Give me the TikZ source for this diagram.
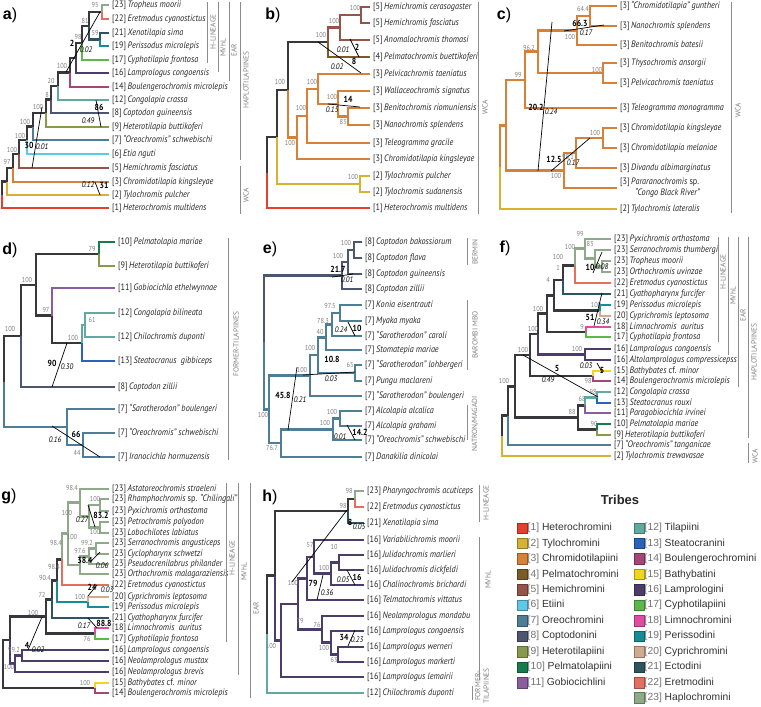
\documentclass[tikz,border=0pt]{standalone}
\usepackage{fontspec}
\setmainfont{PT Sans}
\newfontfamily\leaffont[FakeStretch=0.88]{PT Sans}
\newfontfamily\legfont{Liberation Sans}
\usetikzlibrary{positioning}

\definecolor{tr1}{RGB}{228,64,44}
\definecolor{tr2}{RGB}{214,178,48}
\definecolor{tr3}{RGB}{214,128,56}
\definecolor{tr4}{RGB}{122,92,38}
\definecolor{tr5}{RGB}{150,84,72}
\definecolor{tr6}{RGB}{92,200,234}
\definecolor{tr7}{RGB}{78,126,150}
\definecolor{tr8}{RGB}{76,86,112}
\definecolor{tr9}{RGB}{136,154,76}
\definecolor{tr10}{RGB}{22,124,78}
\definecolor{tr11}{RGB}{140,92,160}
\definecolor{tr12}{RGB}{96,170,160}
\definecolor{tr13}{RGB}{40,100,186}
\definecolor{tr14}{RGB}{166,70,120}
\definecolor{tr15}{RGB}{240,214,30}
\definecolor{tr16}{RGB}{76,60,106}
\definecolor{tr17}{RGB}{92,184,72}
\definecolor{tr18}{RGB}{226,76,160}
\definecolor{tr19}{RGB}{22,140,150}
\definecolor{tr20}{RGB}{210,170,142}
\definecolor{tr21}{RGB}{46,84,96}
\definecolor{tr22}{RGB}{226,112,96}
\definecolor{tr23}{RGB}{142,170,136}
\definecolor{stem}{RGB}{55,55,60}

\newcounter{sl}
% leaf, branch to inner node, branch to leaf
\newcommand\leaf[4]{\node[leaf] (#1) at (#2) {[#3]\,\textit{#4}};}
\newcommand\br[3]{\draw[branch,#1] (#2) |- (#3);}
\newcommand\bl[3]{\draw[branch,#1] (#2) |- (#3.west);}
% support value
\newcommand\bsv[2]{\stepcounter{sl}\node[supp] (sv\arabic{sl}) at (#1) {#2};}
% slanted mark with bold and italic value
\newcommand\ann[6]{\stepcounter{sl}%
  \coordinate (an\arabic{sl}a) at (#1); \coordinate (an\arabic{sl}b) at (#2);
  \draw[annl] (an\arabic{sl}a) -- (an\arabic{sl}b);
  \node[bnum] (bn\arabic{sl}) at (#3) {#4};
  \node[inum] (in\arabic{sl}) at (#5) {#6};}
% group bar with rotated name
\newcommand\grp[5]{\stepcounter{sl}%
  \coordinate (ga\arabic{sl}) at (#1,#2); \coordinate (gb\arabic{sl}) at (#1,#3);
  \draw[grpl] (ga\arabic{sl}) -- (gb\arabic{sl});
  \node[grpt] (gt\arabic{sl}) at (#4) {#5};}

\begin{document}
\begin{tikzpicture}[x=1pt, y=-1pt, node distance=15.45pt]
    % Define the styles
    \tikzstyle{branch} = [line width=2.7pt]
    \tikzstyle{leaf} = [anchor=west, inner xsep=3pt, inner ysep=0pt, text=black!85, font=\leaffont\fontsize{9.3}{11}\selectfont]
    \tikzstyle{supp} = [inner sep=0pt, text=black!50, font=\leaffont\fontsize{7.2}{8}\selectfont]
    \tikzstyle{bnum} = [inner sep=0pt, font=\leaffont\fontsize{8.8}{9}\selectfont\bfseries]
    \tikzstyle{inum} = [inner sep=0pt, font=\leaffont\fontsize{8}{9}\selectfont\itshape]
    \tikzstyle{annl} = [draw=black, line width=0.7pt]
    \tikzstyle{grpl} = [draw=black!45, line width=0.8pt]
    \tikzstyle{grpt} = [rotate=90, inner sep=0pt, align=center, text=black!50, font=\fontsize{7.4}{8.4}\selectfont]
    \tikzstyle{panel} = [inner sep=0pt, font=\legfont\fontsize{16}{16}\selectfont\bfseries]
    \tikzstyle{tribe} = [fill=#1, draw=#1!70!black, line width=0.5pt, minimum size=10.5pt, inner sep=0pt, label distance=4pt]
    \tikzstyle{legt} = [inner sep=0pt, text=black!80, font=\legfont\fontsize{10.3}{12}\selectfont]

    \fill[white] (0,0) rectangle (761,707);
    \useasboundingbox (0,0) rectangle (761,707);

    % ---------------- a)
    \node[panel] (pa) at (10,15) {a\textmd{)}};
    \coordinate (aA) at (102,12);   \coordinate (aB) at (100,39.5);
    \coordinate (aC) at (89,26);    \coordinate (aD) at (82,43);
    \coordinate (aE) at (76,58);    \coordinate (aF) at (70,72.5);
    \coordinate (aG) at (58,86);    \coordinate (aH) at (51,99.5);
    \coordinate (aI) at (46,113);   \coordinate (aJ) at (33,126.5);
    \coordinate (aK) at (27,140);   \coordinate (aL) at (19,154);
    \coordinate (aM) at (13,168);   \coordinate (aN) at (7,181.5);
    \coordinate (aR) at (2,195);
    \leaf{a1}{109,5}{23}{Tropheus moorii}
    \leaf{a2}{109,19}{22}{Eretmodus cyanostictus}
    \leaf{a3}{109,33}{21}{Xenotilapia sima}
    \leaf{a4}{109,46}{19}{Perissodus microlepis}
    \leaf{a5}{109,60}{17}{Cyphotilapia frontosa}
    \leaf{a6}{109,73}{16}{Lamprologus congoensis}
    \leaf{a7}{109,87}{14}{Boulengerochromis microlepis}
    \leaf{a8}{109,100}{12}{Congolapia crassa}
    \leaf{a9}{109,113}{8}{Coptodon guineensis}
    \leaf{a10}{109,127}{9}{Heterotilapia buttikoferi}
    \leaf{a11}{109,140}{7}{“Oreochromis” schwebischi}
    \leaf{a12}{109,154}{6}{Etia nguti}
    \leaf{a13}{109,168}{5}{Hemichromis fasciatus}
    \leaf{a14}{109,182}{3}{Chromidotilapia kingsleyae}
    \leaf{a15}{109,195}{2}{Tylochromis pulcher}
    \leaf{a16}{109,208}{1}{Heterochromis multidens}
    \br{stem}{aR}{aN}  \bl{tr1}{aR}{a16}
    \br{stem}{aN}{aM}  \bl{tr2}{aN}{a15}
    \br{stem}{aM}{aL}  \bl{tr3}{aM}{a14}
    \br{stem}{aL}{aK}  \bl{tr5}{aL}{a13}
    \br{stem}{aK}{aJ}  \bl{tr6}{aK}{a12}
    \br{stem}{aJ}{aI}  \bl{tr7}{aJ}{a11}
    \br{stem}{aI}{aH}  \bl{tr9}{aI}{a10}
    \br{stem}{aH}{aG}  \bl{tr8}{aH}{a9}
    \br{stem}{aG}{aF}  \bl{tr12}{aG}{a8}
    \br{stem}{aF}{aE}  \bl{tr14}{aF}{a7}
    \br{stem}{aE}{aD}  \bl{tr16}{aE}{a6}
    \br{stem}{aD}{aC}  \bl{tr17}{aD}{a5}
    \br{stem}{aC}{aA}  \br{tr21}{aC}{aB}
    \bl{tr23}{aA}{a1}  \bl{tr22}{aA}{a2}
    \bl{tr21}{aB}{a3}  \bl{tr19}{aB}{a4}
    \bsv{95,5}{95} \bsv{95,33}{59} \bsv{85,21}{81} \bsv{78,37}{98}
    \bsv{62,66}{100} \bsv{51,81}{20} \bsv{47,95}{8} \bsv{38,107}{100}
    \bsv{25,122}{100} \bsv{20,136}{100} \bsv{12,150}{100} \bsv{7,162}{97}
    \ann{66,72}{100,12}{72,43}{2}{86,50}{0.02}
    \ann{96,100}{101,127}{99,107}{86}{88,121}{0.49}
    \ann{42,107}{32,168}{29,145}{30}{42,147}{0.01}
    \ann{95,182}{100,195}{104,185}{31}{88,185}{0.12}
    \grp{207}{2}{63}{213,32}{H-LINEAGE}
    \grp{218}{2}{72}{223,48}{MVhL}
    \grp{229}{2}{81}{234,50}{EAR}
    \grp{240}{2}{160}{246,80}{HAPLOTILAPIINES}
    \grp{240}{166}{214}{246,195}{WCA}

    % ---------------- b)
    \node[panel] (pb) at (273,15) {b\textmd{)}};
    \coordinate (bH1) at (361,15);   \coordinate (bH2) at (340,27.5);
    \coordinate (bH3) at (328,42);   \coordinate (bP1) at (348,116.5);
    \coordinate (bP2) at (338,104);  \coordinate (bP3) at (318,89);
    \coordinate (bP4) at (307,116);  \coordinate (bP5) at (297,137.5);
    \coordinate (bR2) at (288,90);   \coordinate (bT) at (360,184);
    \coordinate (bR1) at (277,137);  \coordinate (bR) at (267,172.5);
    \leaf{b1}{370,7}{5}{Hemichromis cerasogaster}
    \leaf{b2}{370,23}{5}{Hemichromis fasciatus}
    \leaf{b3}{370,40}{5}{Anomalochromis thomasi}
    \leaf{b4}{370,57}{4}{Pelmatochromis buettikoferi}
    \leaf{b5}{370,74}{3}{Pelvicachromis taeniatus}
    \leaf{b6}{370,91}{3}{Wallaceochromis signatus}
    \leaf{b7}{370,108}{3}{Benitochromis riomuniensis}
    \leaf{b8}{370,125}{3}{Nanochromis splendens}
    \leaf{b9}{370,143}{3}{Teleogramma gracile}
    \leaf{b10}{370,159}{3}{Chromidotilapia kingsleyae}
    \leaf{b11}{370,176}{2}{Tylochromis pulcher}
    \leaf{b12}{370,192}{2}{Tylochromis sudanensis}
    \leaf{b13}{370,208}{1}{Heterochromis multidens}
    \br{stem}{bR}{bR1}  \bl{tr1}{bR}{b13}
    \br{stem}{bR1}{bR2} \br{tr2}{bR1}{bT}
    \bl{tr2}{bT}{b11}   \bl{tr2}{bT}{b12}
    \br{stem}{bR2}{bH3} \br{tr3}{bR2}{bP5}
    \br{tr5}{bH3}{bH2}  \bl{tr4}{bH3}{b4}
    \br{tr5}{bH2}{bH1}  \bl{tr5}{bH2}{b3}
    \bl{tr5}{bH1}{b1}   \bl{tr5}{bH1}{b2}
    \br{tr3}{bP5}{bP4}  \bl{tr3}{bP5}{b10}
    \br{tr3}{bP4}{bP3}  \bl{tr3}{bP4}{b9}
    \bl{tr3}{bP3}{b5}   \br{tr3}{bP3}{bP2}
    \bl{tr3}{bP2}{b6}   \br{tr3}{bP2}{bP1}
    \bl{tr3}{bP1}{b7}   \bl{tr3}{bP1}{b8}
    \bsv{355,8}{100} \bsv{334,21}{100} \bsv{321,35}{100} \bsv{280,82}{100}
    \bsv{312,82}{100} \bsv{332,97}{100} \bsv{301,108}{100} \bsv{343,122}{83}
    \bsv{290,143}{100} \bsv{353,177}{100}
    \ann{350,39}{359,57}{357,47}{2}{343,50}{0.01}
    \ann{318,42}{361,73}{354,61}{8}{337,67}{0.02}
    \ann{328,104}{360,107}{348,99}{14}{332,110}{0.15}
    \grp{478}{2}{214}{485,107}{WCA}

    % ---------------- c)
    \node[panel] (pc) at (504,15) {c\textmd{)}};
    \coordinate (cC1) at (590,16);    \coordinate (cC2) at (577,30.5);
    \coordinate (cC3) at (603,73);    \coordinate (cC4) at (538,51.75);
    \coordinate (cC5) at (525,79.9);  \coordinate (cC6) at (603,138);
    \coordinate (cC7) at (576,153);   \coordinate (cC8) at (564,170.5);
    \coordinate (cC9) at (506,125.2); \coordinate (cR) at (500,167);
    \leaf{c1}{617,6}{3}{“Chromidotilapia” guntheri}
    \leaf{c2}{617,26}{3}{Nanochromis splendens}
    \leaf{c3}{617,45}{3}{Benitochromis batesii}
    \leaf{c4}{617,63}{3}{Thysochromis ansorgii}
    \leaf{c5}{617,83}{3}{Pelvicachromis taeniatus}
    \leaf{c6}{617,108}{3}{Teleogramma monogramma}
    \leaf{c7}{617,128}{3}{Chromidotilapia kingsleyae}
    \leaf{c8}{617,148}{3}{Chromidotilapia melaniae}
    \leaf{c9}{617,168}{3}{Divandu albimarginatus}
    \node[leaf, align=left] (c10) at (617,188) {[3]\,\textit{Pararanochromis} sp.\\\hspace*{15pt}\textit{“Congo Black River”}};
    \leaf{c11}{617,209}{2}{Tylochromis lateralis}
    \br{tr3}{cR}{cC9}   \bl{tr2}{cR}{c11}
    \br{tr3}{cC9}{cC5}  \br{tr3}{cC9}{cC8}
    \br{tr3}{cC5}{cC4}  \bl{tr3}{cC5}{c6}
    \br{tr3}{cC4}{cC2}  \br{tr3}{cC4}{cC3}
    \br{tr3}{cC2}{cC1}  \bl{tr3}{cC2}{c3}
    \bl{tr3}{cC1}{c1}   \bl{tr3}{cC1}{c2}
    \bl{tr3}{cC3}{c4}   \bl{tr3}{cC3}{c5}
    \br{tr3}{cC8}{cC7}  \bl{tr3}{cC8}{c10}
    \br{tr3}{cC7}{cC6}  \bl{tr3}{cC7}{c9}
    \bl{tr3}{cC6}{c7}   \bl{tr3}{cC6}{c8}
    \bsv{583,9}{64.4} \bsv{570,37}{100} \bsv{529,48}{96.2} \bsv{597,70}{100}
    \bsv{518,75}{99} \bsv{595,133}{100} \bsv{568,157}{98.1} \bsv{556,176}{100}
    \ann{564,31}{604,25}{580,23}{66.3}{586,33}{0.17}
    \ann{552,22}{538,171}{536,107}{20.2}{551,112}{0.24}
    \ann{551,171}{590,138}{554,159}{12.5}{573,163}{0.17}
    \grp{731}{2}{213}{738,110}{WCA}

    % ---------------- d)
    \node[panel] (pd) at (10,250) {d\textmd{)}};
    \coordinate (dD1) at (99,254);   \coordinate (dD2) at (85,325);
    \coordinate (dD3) at (82,343);   \coordinate (dD4) at (52,315.5);
    \coordinate (dD5) at (36,285);   \coordinate (dD6) at (21,336);
    \coordinate (dD7) at (83,445);   \coordinate (dD8) at (67,427);
    \coordinate (dR) at (4,381.5);
    \leaf{d1}{115,242}{10}{Pelmatolapia mariae}
    \leaf{d2}{115,266}{9}{Heterotilapia buttikoferi}
    \leaf{d3}{115,288}{11}{Gobiocichla ethelwynnae}
    \leaf{d4}{115,313}{12}{Congolapia bilineata}
    \leaf{d5}{115,337}{12}{Chilochromis duponti}
    \leaf{d6}{115,361}{13}{Steatocranus\ \ gibbiceps}
    \leaf{d7}{115,387}{8}{Coptodon zillii}
    \leaf{d8}{115,409}{7}{“Sarotherodon” boulengeri}
    \leaf{d9}{115,433}{7}{“Oreochromis” schwebischi}
    \leaf{d10}{115,457}{7}{Iranocichla hormuzensis}
    \br{stem}{dR}{dD6}  \br{tr7}{dR}{dD8}
    \br{stem}{dD6}{dD5} \bl{tr8}{dD6}{d7}
    \br{stem}{dD5}{dD1} \br{stem}{dD5}{dD4}
    \bl{tr10}{dD1}{d1}  \bl{tr9}{dD1}{d2}
    \bl{tr11}{dD4}{d3}  \br{stem}{dD4}{dD3}
    \br{tr12}{dD3}{dD2} \bl{tr13}{dD3}{d6}
    \bl{tr12}{dD2}{d4}  \bl{tr12}{dD2}{d5}
    \bl{tr7}{dD8}{d8}   \br{tr7}{dD8}{dD7}
    \bl{tr7}{dD7}{d9}   \bl{tr7}{dD7}{d10}
    \bsv{92,249}{79} \bsv{27,280}{100} \bsv{46,310}{97} \bsv{92,320}{61}
    \bsv{73,338}{100} \bsv{10,329}{100} \bsv{77,453}{44}
    \ann{67,343}{52,387}{52,363}{90}{67,367}{0.30}
    \ann{52,426}{100,457}{76,434}{66}{55,440}{0.16}
    \grp{228}{238}{460}{236,344}{FORMER-TILAPIINES}

    % ---------------- e)
    \node[panel] (pe) at (270,249) {e\textmd{)}};
    \coordinate (eE1) at (354,250);    \coordinate (eE2) at (348,262);
    \coordinate (eE3) at (342,275.5);  \coordinate (eE4) at (340,313);
    \coordinate (eE5) at (332,324.5);  \coordinate (eE6) at (326,337.25);
    \coordinate (eE7) at (355,373);    \coordinate (eE8) at (318,355);
    \coordinate (eE9) at (310,375.5);  \coordinate (eE10) at (340,418.5);
    \coordinate (eE11) at (333,429.25);\coordinate (eE12) at (281,443);
    \coordinate (eE13) at (269,409.25);\coordinate (eR) at (264,342.4);
    \leaf{e1}{362,242}{8}{Coptodon bakossiorum}
    \leaf{e2}{362,258}{8}{Coptodon flava}
    \leaf{e3}{362,274}{8}{Coptodon guineensis}
    \leaf{e4}{362,289}{8}{Coptodon zillii}
    \leaf{e5}{362,305}{7}{Konia eisentrauti}
    \leaf{e6}{362,321}{7}{Myaka myaka}
    \leaf{e7}{362,336}{7}{“Sarotherodon” caroli}
    \leaf{e8}{362,350}{7}{Stomatepia mariae}
    \leaf{e9}{362,365}{7}{“Sarotherodon” lohbergeri}
    \leaf{e10}{362,381}{7}{Pungu maclareni}
    \leaf{e11}{362,396}{7}{“Sarotherodon” boulengeri}
    \leaf{e12}{362,411}{7}{Alcolapia alcalica}
    \leaf{e13}{362,426}{7}{Alcolapia grahami}
    \leaf{e14}{362,440}{7}{“Oreochromis” schwebischi}
    \leaf{e15}{362,457}{7}{Danakilia dinicolai}
    \br{tr8}{eR}{eE3}   \br{tr7}{eR}{eE13}
    \br{tr8}{eE3}{eE2}  \bl{tr8}{eE3}{e4}
    \br{tr8}{eE2}{eE1}  \bl{tr8}{eE2}{e3}
    \bl{tr8}{eE1}{e1}   \bl{tr8}{eE1}{e2}
    \br{tr7}{eE13}{eE9} \br{tr7}{eE13}{eE12}
    \br{tr7}{eE9}{eE8}  \bl{tr7}{eE9}{e11}
    \br{tr7}{eE8}{eE6}  \br{tr7}{eE8}{eE7}
    \br{tr7}{eE6}{eE5}  \bl{tr7}{eE6}{e8}
    \br{tr7}{eE5}{eE4}  \bl{tr7}{eE5}{e7}
    \bl{tr7}{eE4}{e5}   \bl{tr7}{eE4}{e6}
    \bl{tr7}{eE7}{e9}   \bl{tr7}{eE7}{e10}
    \br{tr7}{eE12}{eE11}\bl{tr7}{eE12}{e15}
    \br{tr7}{eE11}{eE10}\bl{tr7}{eE11}{e14}
    \bl{tr7}{eE10}{e12} \bl{tr7}{eE10}{e13}
    \bsv{346,243}{100} \bsv{338,256}{100} \bsv{330,306}{97.5} \bsv{323,321}{78.3}
    \bsv{320,332}{40} \bsv{310,348}{100} \bsv{302,370}{100} \bsv{350,365}{65}
    \bsv{332,412}{100} \bsv{325,423}{100} \bsv{272,448}{76.7} \bsv{263,415}{100}
    \ann{332,277}{353,274}{338,269}{21.7}{347,280}{0.01}
    \ann{348,322}{355,336}{357,328}{10}{341,330}{0.24}
    \ann{303,375}{355,372}{332,359}{10.8}{331,379}{0.03}
    \ann{297,367}{288,430}{283,395}{45.8}{300,400}{0.21}
    \ann{347,425}{355,440}{360,432}{14.2}{340,437}{0.01}
    \grp{467}{238}{265}{475,252}{BERMIN}
    \grp{467}{300}{370}{475,335}{BAROMBI MBO}
    \grp{467}{405}{440}{475,424}{NATRON/MAGADI}

    % ---------------- f)
    \node[panel] (pf) at (505,248) {f\textmd{)}};
    \coordinate (fhA) at (602,266.5);  \coordinate (fhB) at (595,258.25);
    \coordinate (fhC) at (585,248.6);  \coordinate (fhD) at (575,265.8);
    \coordinate (fhE) at (563,279.9);  \coordinate (fpc) at (600,310.5);
    \coordinate (fN1) at (554,295.2);  \coordinate (flc) at (586,332);
    \coordinate (fN2) at (547,313.6);  \coordinate (flp) at (585,354.5);
    \coordinate (fN3) at (538,334);    \coordinate (fbb) at (593,376);
    \coordinate (fN4) at (530,355);    \coordinate (fct) at (597,397.5);
    \coordinate (fcg) at (585,405.25); \coordinate (fpm) at (597,429.5);
    \coordinate (fgp) at (578,417.4);  \coordinate (fN5) at (515,386.2);
    \coordinate (fN6) at (508,415.6);  \coordinate (fR) at (502,435.8);
    \leaf{f1}{611,239}{23}{Pyxichromis orthostoma}
    \leaf{f2}{611,250}{23}{Serranochromis thumbergi}
    \leaf{f3}{611,261}{23}{Tropheus moorii}
    \leaf{f4}{611,272}{23}{Orthochromis uvinzae}
    \leaf{f5}{611,283}{22}{Eretmodus cyanostictus}
    \leaf{f6}{611,294}{21}{Cyathopharynx furcifer}
    \leaf{f7}{611,305}{19}{Perissodus microlepis}
    \leaf{f8}{611,316}{20}{Cyprichromis leptosoma}
    \leaf{f9}{611,327}{18}{Limnochromis\ \ auritus}
    \leaf{f10}{611,337}{17}{Cyphotilapia frontosa}
    \leaf{f11}{611,349}{16}{Lamprologus congoensis}
    \leaf{f12}{611,360}{16}{Altolamprologus compressicepss}
    \leaf{f13}{611,371}{15}{Bathybates \textup{cf.} minor}
    \leaf{f14}{611,381}{14}{Boulengerochromis microlepis}
    \leaf{f15}{611,392}{12}{Congolapia crassa}
    \leaf{f16}{611,403}{13}{Steatocranus rouxi}
    \leaf{f17}{611,413}{11}{Paragobiocichla irvinei}
    \leaf{f18}{611,424}{10}{Pelmatolapia mariae}
    \leaf{f19}{611,435}{9}{Heterotilapia buttikoferi}
    \leaf{f20}{611,445}{7}{“Oreochromis” tanganicae}
    \leaf{f21}{611,456}{2}{Tylochromis trewavasae}
    \br{stem}{fR}{fN6}  \bl{tr2}{fR}{f21}
    \br{stem}{fN6}{fN5} \bl{tr7}{fN6}{f20}
    \br{stem}{fN5}{fN4} \br{stem}{fN5}{fgp}
    \br{stem}{fgp}{fcg} \br{stem}{fgp}{fpm}
    \bl{tr10}{fpm}{f18} \bl{tr9}{fpm}{f19}
    \br{tr12}{fcg}{fct} \bl{tr11}{fcg}{f17}
    \bl{tr12}{fct}{f15} \bl{tr13}{fct}{f16}
    \br{stem}{fN4}{fN3} \br{stem}{fN4}{fbb}
    \bl{tr15}{fbb}{f13} \bl{tr14}{fbb}{f14}
    \br{stem}{fN3}{fN2} \br{tr16}{fN3}{flp}
    \bl{tr16}{flp}{f11} \bl{tr16}{flp}{f12}
    \br{stem}{fN2}{fN1} \br{stem}{fN2}{flc}
    \bl{tr18}{flc}{f9}  \bl{tr17}{flc}{f10}
    \br{stem}{fN1}{fhE} \br{stem}{fN1}{fpc}
    \bl{tr19}{fpc}{f7}  \bl{tr20}{fpc}{f8}
    \br{stem}{fhE}{fhD} \bl{tr21}{fhE}{f6}
    \br{tr23}{fhD}{fhC} \bl{tr22}{fhD}{f5}
    \bl{tr23}{fhC}{f1}  \br{tr23}{fhC}{fhB}
    \bl{tr23}{fhB}{f2}  \br{tr23}{fhB}{fhA}
    \bl{tr23}{fhA}{f3}  \bl{tr23}{fhA}{f4}
    \bsv{580,234}{99} \bsv{590,244}{83} \bsv{570,247}{100} \bsv{558,257}{100}
    \bsv{558,268}{1} \bsv{548,280}{4} \bsv{596,305}{100} \bsv{538,309}{100}
    \bsv{582,327}{9} \bsv{533,329}{100} \bsv{523,350}{100} \bsv{577,349}{100}
    \bsv{588,381}{98} \bsv{504,381}{100} \bsv{593,392}{98} \bsv{582,399}{68}
    \bsv{572,412}{88} \bsv{594,424}{90}
    \ann{593,273}{602,252}{590,267}{10}{602,267}{0.08}
    \ann{594,326}{602,293}{590,317}{51}{603,322}{0.34}
    \ann{523,355}{598,397}{557,368}{5}{548,380}{0.49}
    \ann{597,363}{602,372}{602,370}{5}{586,366}{0.03}
    \grp{718}{237}{342}{723,272}{H-LINEAGE}
    \grp{728}{237}{355}{733,296}{MVhL}
    \grp{738}{237}{387}{743,315}{EAR}
    \grp{748}{237}{438}{754,352}{HAPLOTILAPIINES}
    \grp{748}{443}{463}{755,456}{WCA}

    % ---------------- g)
    \node[panel] (pg) at (9,496) {g\textmd{)}};
    \coordinate (gG1) at (100,505);    \coordinate (gG2) at (100,527.5);
    \coordinate (gG3) at (89,516.25);  \coordinate (gG4) at (80,502.6);
    \coordinate (gG6) at (96,548.5);   \coordinate (gG7) at (89,556.25);
    \coordinate (gG8) at (80,565);     \coordinate (gG9) at (68,533.8);
    \coordinate (gG10) at (62,559.4);  \coordinate (gcp) at (88,602);
    \coordinate (gG11) at (57,580.7);  \coordinate (gG12) at (52,599.4);
    \coordinate (glc) at (95,633.5);   \coordinate (gG13) at (46,616.4);
    \coordinate (gL1) at (22,655.5);   \coordinate (gL2) at (15,663.75);
    \coordinate (gG14) at (10,640);    \coordinate (gbb) at (95,688);
    \coordinate (gR) at (3,664);
    \leaf{g1}{109,489}{23}{Astatoreochromis straeleni}
    \leaf{g2}{109,499}{23}{Rhamphochromis \textup{sp.} “Chilingali”}
    \leaf{g3}{109,511}{23}{Pyxichromis orthostoma}
    \leaf{g4}{109,522}{23}{Petrochromis polyodon}
    \leaf{g5}{109,533}{23}{Lobochilotes labiatus}
    \leaf{g6}{109,543}{23}{Serranochromis angusticeps}
    \leaf{g7}{109,554}{23}{Cyclopharynx schwetzi}
    \leaf{g8}{109,564}{23}{Pseudocrenilabrus philander}
    \leaf{g9}{109,574}{23}{Orthochromis malagaraziensis}
    \leaf{g10}{109,585}{22}{Eretmodus cyanostictus}
    \leaf{g11}{109,597}{20}{Cyprichromis leptosoma}
    \leaf{g12}{109,607}{19}{Perissodus microlepis}
    \leaf{g13}{109,618}{21}{Cyathopharynx furcifer}
    \leaf{g14}{109,628}{18}{Limnochromis\ \ auritus}
    \leaf{g15}{109,639}{17}{Cyphotilapia frontosa}
    \leaf{g16}{109,650}{16}{Lamprologus congoensis}
    \leaf{g17}{109,661}{16}{Neolamprologus mustax}
    \leaf{g18}{109,672}{16}{Neolamprologus brevis}
    \leaf{g19}{109,683}{15}{Bathybates \textup{cf.} minor}
    \leaf{g20}{109,693}{14}{Boulengerochromis microlepis}
    \br{stem}{gR}{gG14}  \br{stem}{gR}{gbb}
    \bl{tr15}{gbb}{g19}  \bl{tr14}{gbb}{g20}
    \br{stem}{gG14}{gG13} \br{tr16}{gG14}{gL2}
    \br{tr16}{gL2}{gL1}  \bl{tr16}{gL2}{g18}
    \bl{tr16}{gL1}{g16}  \bl{tr16}{gL1}{g17}
    \br{stem}{gG13}{gG12} \br{stem}{gG13}{glc}
    \bl{tr18}{glc}{g14}  \bl{tr17}{glc}{g15}
    \br{stem}{gG12}{gG11} \bl{tr21}{gG12}{g13}
    \br{stem}{gG11}{gG10} \br{tr19}{gG11}{gcp}
    \bl{tr20}{gcp}{g11}  \bl{tr19}{gcp}{g12}
    \br{tr23}{gG10}{gG9} \bl{tr22}{gG10}{g10}
    \br{tr23}{gG9}{gG4}  \br{tr23}{gG9}{gG8}
    \bl{tr23}{gG4}{g1}   \br{tr23}{gG4}{gG3}
    \br{tr23}{gG3}{gG1}  \br{tr23}{gG3}{gG2}
    \bl{tr23}{gG1}{g2}   \bl{tr23}{gG1}{g3}
    \bl{tr23}{gG2}{g4}   \bl{tr23}{gG2}{g5}
    \br{tr23}{gG8}{gG7}  \bl{tr23}{gG8}{g9}
    \br{tr23}{gG7}{gG6}  \bl{tr23}{gG7}{g8}
    \bl{tr23}{gG6}{g6}   \bl{tr23}{gG6}{g7}
    \bsv{72,488}{98.4} \bsv{95,499}{100} \bsv{67,513}{100} \bsv{95,532}{100}
    \bsv{72,537}{100} \bsv{87,543}{99.2} \bsv{80,551}{97.6} \bsv{56,543}{98.4}
    \bsv{54,567}{98.4} \bsv{45,578}{90.4} \bsv{42,595}{72} \bsv{80,597}{100}
    \bsv{33,613}{100} \bsv{87,639}{76} \bsv{14,650}{99.2} \bsv{9,667}{100}
    \bsv{85,683}{100}
    \ann{88,505}{95,527}{101,515}{83.2}{82,520}{0.27}
    \ann{90,562}{100,552}{85,560}{38.4}{102,566}{0.06}
    \ann{88,596}{97,585}{92,587}{24}{107,590}{0.03}
    \ann{88,618}{97,628}{104,623}{88.8}{84,626}{0.17}
    \ann{28,650}{42,617}{27,645}{4}{38,650}{0.02}
    \grp{226}{483}{642}{232,558}{H-LINEAGE}
    \grp{238}{483}{675}{244,572}{MVhL}
    \grp{250}{483}{698}{256,608}{EAR}

    % ---------------- h)
    \node[panel] (ph) at (270,497) {h\textmd{)}};
    \coordinate (hph) at (355,499);   \coordinate (hpe) at (348,511);
    \coordinate (hv1) at (339,562.5); \coordinate (hv2) at (331,573.75);
    \coordinate (hv3) at (314,556.9); \coordinate (hv4) at (307,578.4);
    \coordinate (hlw) at (338,654.5); \coordinate (hlc) at (331,642.75);
    \coordinate (hmo) at (322,629.4); \coordinate (hv5) at (298,603.9);
    \coordinate (hv6) at (281,640.5); \coordinate (hv) at (275,575.7);
    \coordinate (hR) at (267,634.4);
    \leaf{h1}{364,491}{23}{Pharyngochromis acuticeps}
    \leaf{h2}{364,507}{22}{Eretmodus cyanostictus}
    \leaf{h3}{364,523}{21}{Xenotilapia sima}
    \leaf{h4}{364,540}{16}{Variabilichromis moorii}
    \leaf{h5}{364,555}{16}{Julidochromis marlieri}
    \leaf{h6}{364,570}{16}{Julidochromis dickfeldi}
    \leaf{h7}{364,585}{16}{Chalinochromis brichardi}
    \leaf{h8}{364,600}{16}{Telmatochromis vittatus}
    \leaf{h9}{364,616}{16}{Neolamprologus mondabu}
    \leaf{h10}{364,631}{16}{Lamprologus congoensis}
    \leaf{h11}{364,647}{16}{Lamprologus werneri}
    \leaf{h12}{364,662}{16}{Lamprologus markerti}
    \leaf{h13}{364,677}{16}{Lamprologus lemairii}
    \leaf{h14}{364,693}{12}{Chilochromis duponti}
    \br{stem}{hR}{hv}    \bl{tr12}{hR}{h14}
    \br{stem}{hv}{hpe}   \br{tr16}{hv}{hv6}
    \br{stem}{hpe}{hph}  \bl{tr21}{hpe}{h3}
    \bl{tr23}{hph}{h1}   \bl{tr22}{hph}{h2}
    \br{tr16}{hv6}{hv5}  \bl{tr16}{hv6}{h13}
    \br{tr16}{hv5}{hv4}  \br{tr16}{hv5}{hmo}
    \br{tr16}{hv4}{hv3}  \bl{tr16}{hv4}{h8}
    \bl{tr16}{hv3}{h4}   \br{tr16}{hv3}{hv2}
    \br{tr16}{hv2}{hv1}  \bl{tr16}{hv2}{h7}
    \bl{tr16}{hv1}{h5}   \bl{tr16}{hv1}{h6}
    \bl{tr16}{hmo}{h9}   \br{tr16}{hmo}{hlc}
    \bl{tr16}{hlc}{h10}  \br{tr16}{hlc}{hlw}
    \bl{tr16}{hlw}{h11}  \bl{tr16}{hlw}{h12}
    \bsv{349,491}{98} \bsv{343,506}{98} \bsv{310,545}{57} \bsv{334,547}{10}
    \bsv{324,568}{100} \bsv{293,583}{100} \bsv{300,621}{79} \bsv{317,625}{76}
    \bsv{271,646}{100} \bsv{324,648}{100} \bsv{334,660}{63}
    \ann{292,582}{347,510}{350,522}{8}{359,527}{0.05}
    \ann{347,570}{355,585}{357,577}{16}{343,580}{0.05}
    \ann{317,600}{323,575}{313,583}{79}{327,593}{0.36}
    \ann{348,646}{355,630}{344,637}{34}{357,640}{0.23}
    \grp{479}{485}{522}{486,503}{H-LINEAGE}
    \grp{479}{537}{680}{488,580}{MVhL}
    \grp{472}{686}{700}{482,686}{FORMER-\\TILAPIINES}

    % ---------------- Tribes
    \node[inner sep=0pt, text=black!85, font=\legfont\fontsize{13}{14}\selectfont\bfseries] (tribes) at (620,500) {Tribes};
    \node[tribe=tr1, label={[legt]right:{\color{black!55}[1]} Heterochromini}] (t1) at (522,528) {};
    \node[tribe=tr2, below of=t1, label={[legt]right:{\color{black!55}[2]} Tylochromini}] (t2) {};
    \node[tribe=tr3, below of=t2, label={[legt]right:{\color{black!55}[3]} Chromidotilapiini}] (t3) {};
    \node[tribe=tr4, below of=t3, label={[legt]right:{\color{black!55}[4]} Pelmatochromini}] (t4) {};
    \node[tribe=tr5, below of=t4, label={[legt]right:{\color{black!55}[5]} Hemichromini}] (t5) {};
    \node[tribe=tr6, below of=t5, label={[legt]right:{\color{black!55}[6]} Etiini}] (t6) {};
    \node[tribe=tr7, below of=t6, label={[legt]right:{\color{black!55}[7]} Oreochromini}] (t7) {};
    \node[tribe=tr8, below of=t7, label={[legt]right:{\color{black!55}[8]} Coptodonini}] (t8) {};
    \node[tribe=tr9, below of=t8, label={[legt]right:{\color{black!55}[9]} Heterotilapiini}] (t9) {};
    \node[tribe=tr10, below of=t9, label={[legt]right:{\color{black!55}[10]} Pelmatolapiini}] (t10) {};
    \node[tribe=tr11, below of=t10, label={[legt]right:{\color{black!55}[11]} Gobiocichlini}] (t11) {};
    \node[tribe=tr12, label={[legt]right:{\color{black!55}[12]} Tilapiini}] (t12) at (639,528) {};
    \node[tribe=tr13, below of=t12, label={[legt]right:{\color{black!55}[13]} Steatocranini}] (t13) {};
    \node[tribe=tr14, below of=t13, label={[legt]right:{\color{black!55}[14]} Boulengerochromini}] (t14) {};
    \node[tribe=tr15, below of=t14, label={[legt]right:{\color{black!55}[15]} Bathybatini}] (t15) {};
    \node[tribe=tr16, below of=t15, label={[legt]right:{\color{black!55}[16]} Lamprologini}] (t16) {};
    \node[tribe=tr17, below of=t16, label={[legt]right:{\color{black!55}[17]} Cyphotilapiini}] (t17) {};
    \node[tribe=tr18, below of=t17, label={[legt]right:{\color{black!55}[18]} Limnochromini}] (t18) {};
    \node[tribe=tr19, below of=t18, label={[legt]right:{\color{black!55}[19]} Perissodini}] (t19) {};
    \node[tribe=tr20, below of=t19, label={[legt]right:{\color{black!55}[20]} Cyprichromini}] (t20) {};
    \node[tribe=tr21, below of=t20, label={[legt]right:{\color{black!55}[21]} Ectodini}] (t21) {};
    \node[tribe=tr22, below of=t21, label={[legt]right:{\color{black!55}[22]} Eretmodini}] (t22) {};
    \node[tribe=tr23, below of=t22, label={[legt]right:{\color{black!55}[23]} Haplochromini}] (t23) {};
\end{tikzpicture}
\end{document}
